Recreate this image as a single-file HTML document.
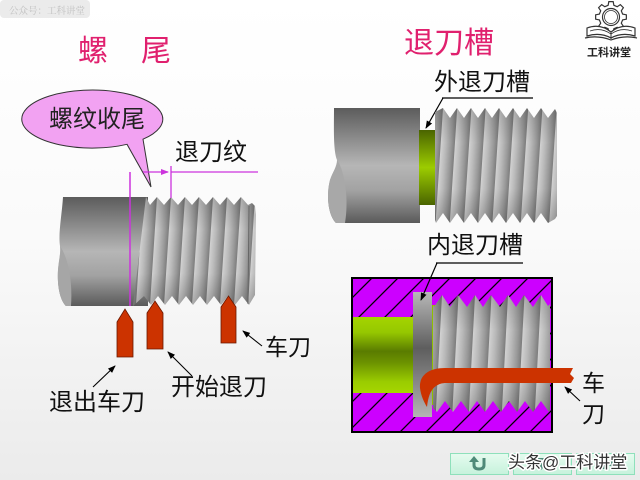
<!DOCTYPE html>
<html><head><meta charset="utf-8"><style>
html,body{margin:0;padding:0;width:640px;height:480px;overflow:hidden;background:linear-gradient(to bottom,#ffffff 0%,#fafafa 50%,#ebebeb 100%);}
svg{position:absolute;left:0;top:0;}
text{font-family:"Liberation Sans","Noto Sans CJK SC",sans-serif;}
</style></head><body>
<svg width="640" height="480" viewBox="0 0 640 480" xmlns="http://www.w3.org/2000/svg">
<defs>
  <linearGradient id="cyl" x1="0" y1="0" x2="0" y2="1">
    <stop offset="0" stop-color="#5c5c5c"/><stop offset="0.18" stop-color="#7c7c7c"/>
    <stop offset="0.5" stop-color="#b6b6b6"/><stop offset="0.72" stop-color="#a2a2a2"/>
    <stop offset="1" stop-color="#5a5a5a"/>
  </linearGradient>
  <linearGradient id="stripe" x1="0" y1="0" x2="1" y2="0">
    <stop offset="0" stop-color="#d2d2d2"/><stop offset="0.35" stop-color="#bababa"/>
    <stop offset="0.75" stop-color="#979797"/><stop offset="1" stop-color="#7c7c7c"/>
  </linearGradient>
  <linearGradient id="shade" x1="0" y1="0" x2="0" y2="1">
    <stop offset="0" stop-color="#000" stop-opacity="0.18"/><stop offset="0.3" stop-color="#000" stop-opacity="0"/>
    <stop offset="0.7" stop-color="#000" stop-opacity="0"/><stop offset="1" stop-color="#000" stop-opacity="0.18"/>
  </linearGradient>
  <pattern id="thrL" patternUnits="userSpaceOnUse" width="14" height="300" patternTransform="translate(157,197) skewX(-3.7)">
    <rect width="14" height="300" fill="url(#stripe)"/>
  </pattern>
  <pattern id="thrR" patternUnits="userSpaceOnUse" width="14.2" height="300" patternTransform="translate(443,108) skewX(-3.7)">
    <rect width="14.2" height="300" fill="url(#stripe)"/>
  </pattern>
  <pattern id="thrI" patternUnits="userSpaceOnUse" width="16.5" height="300" patternTransform="translate(442,295) skewX(-3)">
    <rect width="16.5" height="300" fill="url(#stripe)"/>
  </pattern>
  <linearGradient id="grnOut" x1="0" y1="0" x2="0" y2="1">
    <stop offset="0" stop-color="#4a6400"/><stop offset="0.5" stop-color="#9ccc00"/><stop offset="1" stop-color="#4a6400"/>
  </linearGradient>
  <linearGradient id="grnIn" x1="0" y1="0" x2="0" y2="1">
    <stop offset="0" stop-color="#a4d400"/><stop offset="0.2" stop-color="#96c800"/>
    <stop offset="0.45" stop-color="#5a7c00"/><stop offset="0.6" stop-color="#6c9200"/>
    <stop offset="0.85" stop-color="#9acc00"/><stop offset="1" stop-color="#a6d600"/>
  </linearGradient>
  <linearGradient id="plate" x1="0" y1="0" x2="0" y2="1">
    <stop offset="0" stop-color="#b8b8b8"/><stop offset="0.45" stop-color="#5e5e5e"/>
    <stop offset="0.6" stop-color="#747474"/><stop offset="1" stop-color="#b4b4b4"/>
  </linearGradient>
  <pattern id="hatch" patternUnits="userSpaceOnUse" width="26" height="26">
    <path d="M-13,13 L13,-13 M-2,28 L28,-2 M13,39 L39,13" stroke="#000" stroke-width="1.3"/>
  </pattern>
  <linearGradient id="btn" x1="0" y1="0" x2="0" y2="1">
    <stop offset="0" stop-color="#e6fbef"/><stop offset="1" stop-color="#c6f2dc"/>
  </linearGradient>
  <marker id="ar" markerWidth="8" markerHeight="6" refX="7" refY="3" orient="auto" markerUnits="userSpaceOnUse">
    <path d="M0,0 L8,3 L0,6 Z" fill="#000"/>
  </marker>
  <marker id="arm" markerWidth="8" markerHeight="6" refX="7" refY="3" orient="auto" markerUnits="userSpaceOnUse">
    <path d="M0,0 L8,3 L0,6 Z" fill="#cc33dd"/>
  </marker>
</defs>

<!-- top-left watermark -->
<rect x="0" y="0" width="90" height="18" rx="4" fill="#ebebeb"/>
<text x="9" y="14" font-size="9.5" fill="#c0c0c0" style='font-family:"Liberation Serif","Noto Serif CJK SC",serif'>公众号：工科讲堂</text>

<!-- titles -->
<text x="78" y="61" font-size="30" fill="#e0206e">螺</text>
<text x="141" y="61" font-size="30" fill="#e0206e">尾</text>
<text x="404" y="53" font-size="30" fill="#e0206e">退刀槽</text>

<!-- logo -->
<path d="M608.10,5.36 L608.84,1.65 L613.16,1.65 L613.90,5.36 L617.18,6.71 L620.33,4.62 L623.38,7.67 L621.29,10.82 L622.64,14.10 L626.35,14.84 L626.35,19.16 L622.64,19.90 L621.29,23.18 L623.38,26.33 L620.33,29.38 L617.18,27.29 L613.90,28.64 L613.16,32.35 L608.84,32.35 L608.10,28.64 L604.82,27.29 L601.67,29.38 L598.62,26.33 L600.71,23.18 L599.36,19.90 L595.65,19.16 L595.65,14.84 L599.36,14.10 L600.71,10.82 L598.62,7.67 L601.67,4.62 L604.82,6.71 Z" fill="#fff" stroke="#333" stroke-width="1.2"/>
<circle cx="611" cy="17" r="8.5" fill="none" stroke="#333" stroke-width="1.2"/>
<circle cx="611" cy="17" r="6.5" fill="none" stroke="#333" stroke-width="0.8"/>
<path d="M587,28 Q600,23 611,32 Q622,23 635,28 L635,36 Q622,32 611,38 Q600,32 587,36 Z" fill="#fff" stroke="#333" stroke-width="1.2"/>
<path d="M590,31 Q601,27 611,34 Q621,27 632,31" fill="none" stroke="#333" stroke-width="0.8"/>
<path d="M585,38 Q598,35 611,40 Q624,35 637,38" fill="none" stroke="#333" stroke-width="1.2"/>
<line x1="611" y1="32" x2="611" y2="39" stroke="#333" stroke-width="1"/>
<text x="587" y="56" font-size="11" font-weight="bold" fill="#222">工科讲堂</text>

<!-- ===== LEFT: 螺尾 ===== -->
<path d="M127,144.3 L151,187 L143,139.2 A70.5,29 0 1 0 127,144.3 Z" fill="#f2a2f2" stroke="#333" stroke-width="1"/>
<text x="49" y="127" font-size="24" fill="#222">螺纹收尾</text>
<text x="175" y="160" font-size="24" fill="#111">退刀纹</text>

<!-- left cylinder -->
<path d="M63,197 L148,197 L148,306 L66,306 C60,300 57,286 58,270 C59,258 61,252 60,246 C58,234 62,214 63,197 Z" fill="url(#cyl)"/>
<path d="M60,246 C67,256 73,278 71,306 L66,306 C60,300 57,286 58,270 C59,260 61,252 60,246 Z" fill="#a6a6a6"/>
<!-- left thread -->
<path d="M146,197 L150,205 L157,197 L164,205 L171,197 L178,205 L185,197 L192,205 L199,197 L206,205 L213,197 L220,205 L227,197 L234,205 L241,197 L248,205 L252,203 L255,206 L256,215 L255,295 L252,300 L249,305 L242,296 L235,305 L228,296 L221,305 L214,296 L207,305 L200,296 L193,305 L186,296 L179,305 L172,296 L165,305 L158,296 L151,305 L144,296 L133,306 Z" fill="url(#thrL)"/>
<path d="M146,197 L150,205 L157,197 L164,205 L171,197 L178,205 L185,197 L192,205 L199,197 L206,205 L213,197 L220,205 L227,197 L234,205 L241,197 L248,205 L252,203 L255,206 L256,215 L255,295 L252,300 L249,305 L242,296 L235,305 L228,296 L221,305 L214,296 L207,305 L200,296 L193,305 L186,296 L179,305 L172,296 L165,305 L158,296 L151,305 L144,296 L133,306 Z" fill="url(#shade)"/>
<line x1="249" y1="206" x2="248" y2="304" stroke="#666" stroke-width="1"/>

<!-- magenta dimension lines -->
<line x1="130" y1="172" x2="130" y2="306" stroke="#cc33dd" stroke-width="1.5"/>
<line x1="143" y1="172" x2="168" y2="172" stroke="#cc33dd" stroke-width="1.3" marker-end="url(#arm)"/>
<line x1="171" y1="166" x2="171" y2="198" stroke="#cc33dd" stroke-width="1.3"/>
<line x1="171" y1="172" x2="258" y2="172" stroke="#cc33dd" stroke-width="1.3"/>

<!-- tools -->
<path d="M117,322 L125,309 L133,322 L133,357 L117,357 Z" fill="#cc3300" stroke="#6a1800" stroke-width="0.8"/>
<path d="M147,313 L155,301 L163,313 L163,349 L147,349 Z" fill="#cc3300" stroke="#6a1800" stroke-width="0.8"/>
<path d="M221,307 L228.5,296 L236,307 L236,343 L221,343 Z" fill="#cc3300" stroke="#6a1800" stroke-width="0.8"/>

<!-- leaders -->
<line x1="262" y1="346" x2="243" y2="331" stroke="#000" stroke-width="1.1" marker-end="url(#ar)"/>
<line x1="192" y1="376" x2="168" y2="352" stroke="#000" stroke-width="1.1" marker-end="url(#ar)"/>
<line x1="93" y1="387" x2="115" y2="366" stroke="#000" stroke-width="1.1" marker-end="url(#ar)"/>
<text x="265" y="355" font-size="23" fill="#111">车刀</text>
<text x="171" y="395" font-size="24" fill="#111">开始退刀</text>
<text x="49" y="410" font-size="24" fill="#111">退出车刀</text>

<!-- ===== RIGHT TOP: 外退刀槽 ===== -->
<text x="434" y="90" font-size="24" fill="#111">外退刀槽</text>
<line x1="442" y1="98" x2="533" y2="98" stroke="#000" stroke-width="1.2"/>
<line x1="443" y1="98" x2="426" y2="128" stroke="#000" stroke-width="1.2" marker-end="url(#ar)"/>

<path d="M334,108 L420,108 L420,223 L336,223 C328,215 326,195 330,180 C333,170 339,165 337,160 C333,150 334,125 334,108 Z" fill="url(#cyl)"/>
<path d="M337,160 C345,171 349,200 345,223 L336,223 C328,215 326,195 330,180 C333,172 337,166 337,160 Z" fill="#a8a8a8"/>
<rect x="419" y="130" width="16" height="75" fill="url(#grnOut)"/>
<path d="M435,112 L443,108 L450,118 L457,108 L464,118 L471,108 L478,118 L485,108 L492,118 L499,108 L506,118 L513,108 L520,118 L527,108 L534,118 L541,108 L548,118 L555,109 L557,113 L557,216 L555,219 L548,223 L541,213 L534,223 L527,213 L520,223 L513,213 L506,223 L499,213 L492,223 L485,213 L478,223 L471,213 L464,223 L457,213 L450,223 L443,213 L436,223 L435,220 Z" fill="url(#thrR)"/>
<path d="M435,112 L443,108 L450,118 L457,108 L464,118 L471,108 L478,118 L485,108 L492,118 L499,108 L506,118 L513,108 L520,118 L527,108 L534,118 L541,108 L548,118 L555,109 L557,113 L557,216 L555,219 L548,223 L541,213 L534,223 L527,213 L520,223 L513,213 L506,223 L499,213 L492,223 L485,213 L478,223 L471,213 L464,223 L457,213 L450,223 L443,213 L436,223 L435,220 Z" fill="url(#shade)"/>

<!-- ===== RIGHT BOTTOM: 内退刀槽 ===== -->
<text x="427" y="253" font-size="24" fill="#111">内退刀槽</text>
<line x1="436" y1="263" x2="523" y2="263" stroke="#000" stroke-width="1.2"/>

<rect x="352" y="278" width="200" height="154" fill="#cc00ff"/>
<rect x="352" y="278" width="200" height="154" fill="url(#hatch)"/>
<rect x="353" y="317" width="60" height="76" fill="url(#grnIn)"/>
<rect x="430" y="305" width="6" height="100" fill="#8fbf00"/>
<rect x="413" y="292" width="19" height="125" fill="url(#plate)"/>
<path d="M433,305 L434,307 L442,295 L450,307 L458,295 L467,307 L475,295 L483,307 L491,295 L500,307 L508,295 L516,307 L524,295 L533,307 L541,295 L548,306 L550,304 L550,410 L549,412 L541,401 L533,412 L525,401 L517,412 L509,401 L501,412 L493,401 L485,412 L477,401 L469,412 L461,401 L453,412 L445,401 L437,412 L433,408 Z" fill="url(#thrI)"/>
<path d="M433,305 L434,307 L442,295 L450,307 L458,295 L467,307 L475,295 L483,307 L491,295 L500,307 L508,295 L516,307 L524,295 L533,307 L541,295 L548,306 L550,304 L550,410 L549,412 L541,401 L533,412 L525,401 L517,412 L509,401 L501,412 L493,401 L485,412 L477,401 L469,412 L461,401 L453,412 L445,401 L437,412 L433,408 Z" fill="url(#shade)"/>
<rect x="352" y="278" width="200" height="154" fill="none" stroke="#000" stroke-width="2"/>
<line x1="437" y1="263" x2="421" y2="300" stroke="#000" stroke-width="1.2" marker-end="url(#ar)"/>

<!-- boring tool -->
<path d="M573,368 L445,368 C428,368 419,376 420,388 C421,396 424,402 427,407 C428,398 430,390 436,386 C439,384 442,383 446,383 L571,383 L574,378 L570,374 Z" fill="#cc3300"/>
<line x1="580" y1="401" x2="565" y2="387" stroke="#000" stroke-width="1.1" marker-end="url(#ar)"/>
<text x="582" y="391" font-size="23" fill="#111">车</text>
<text x="582" y="422" font-size="23" fill="#111">刀</text>

<!-- nav buttons -->
<rect x="450.5" y="453.5" width="58" height="21" fill="url(#btn)" stroke="#8ee0bb"/>
<rect x="513.5" y="453.5" width="58" height="21" fill="url(#btn)" stroke="#8ee0bb"/>
<rect x="576.5" y="453.5" width="58" height="21" fill="url(#btn)" stroke="#8ee0bb"/>
<path d="M474,461 L474,465 Q474,469 479,469 Q484,469 484,465 L484,458" fill="none" stroke="#4e8a78" stroke-width="3"/>
<path d="M469,462 L479,462 L474,456 Z" fill="#4e8a78"/>
<path d="M538,458 L544,458 L544,463 L548,463 L541,470 L534,463 L538,463 Z" fill="#4e8a78"/>
<rect x="602" y="458" width="3" height="11" fill="#4e8a78"/>
<path d="M616,458 L616,469 L606,463.5 Z" fill="#4e8a78"/>
<text x="508" y="468" font-size="17" fill="#333" stroke="#fff" stroke-width="3" stroke-linejoin="round" style="paint-order:stroke">头条@工科讲堂</text>
</svg>
</body></html>
